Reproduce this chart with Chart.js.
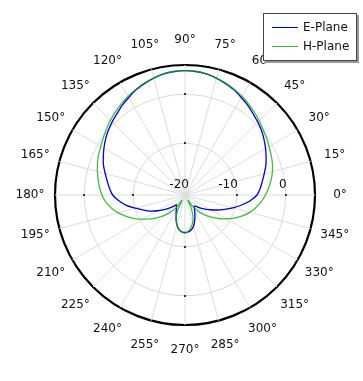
<!DOCTYPE html>
<html>
<head>
<meta charset="utf-8">
<script src="https://cdn.jsdelivr.net/npm/chart.js@4.4.1/dist/chart.umd.min.js"></script>
<style>
  html, body { margin: 0; padding: 0; background: #fff; }
  #wrap { position: relative; width: 363px; height: 381px; }
  #legend {
    position: absolute; left: 263px; top: 13px; width: 92px; height: 46px;
    background: #fff; border: 1px solid #444; box-shadow: 2px 2px 0 #999;
    font: 12px "DejaVu Sans", sans-serif; color: #111;
  }
  .row { position: absolute; left: 0; height: 14px; line-height: 14px; }
  .row .sw { position: absolute; left: 8px; top: 7px; width: 26px; height: 0; border-top: 1.3px solid; }
  .row .tx { position: absolute; left: 39px; top: 0; white-space: nowrap; }
</style>
</head>
<body>
<div id="wrap">
  <canvas id="c" width="363" height="381"></canvas>
  <div id="legend">
    <div class="row" style="top:6px"><span class="sw" style="border-color:#0000cc"></span><span class="tx">E-Plane</span></div>
    <div class="row" style="top:25px"><span class="sw" style="border-color:#3cb83c"></span><span class="tx">H-Plane</span></div>
  </div>
</div>
<script>
// Angles (math convention, degrees, counter-clockwise from the right) at 5° steps
const thetaDeg = Array.from({length: 72}, (_, k) => k * 5);

// E-Plane gain (dB) at thetaDeg
const ePlane = [
  -5.87, -5.15, -4.54, -3.82, -3.00, -2.29, -1.57, -0.85, -0.14, 0.48,
   1.09,  1.81,  2.42,  3.14,  3.65,  4.16,  4.57,  4.77,  4.83, 4.77,
   4.57,  4.16,  3.65,  3.14,  2.42,  1.81,  1.09,  0.50, -0.10, -0.75,
  -1.45, -2.15, -2.85, -3.70, -4.45, -5.10, -5.80, -7.00, -8.42, -10.16,
  -11.60, -12.82, -14.15, -15.40, -16.40, -17.40, -17.94, -17.53, -17.02, -16.30,
  -15.28, -14.26, -13.44, -13.03, -12.93, -13.03, -13.34, -13.95, -14.87, -15.79,
  -16.61, -17.22, -17.63, -17.22, -16.41, -15.59, -14.56, -13.34, -12.01, -10.47,
  -8.83, -7.20
];

// H-Plane gain (dB) at thetaDeg
const hPlane = [
  -4.13, -3.41, -2.70, -2.08, -1.57, -1.16, -0.75, -0.24, 0.27, 0.89,
   1.50,  2.11,  2.73,  3.24,  3.75,  4.16,  4.57,  4.77,  4.83, 4.77,
   4.57,  4.16,  3.75,  3.24,  2.75,  2.15,  1.58,  0.98,  0.40, -0.20,
  -0.70, -1.10, -1.55, -2.05, -2.55, -3.05, -3.60, -4.30, -5.30, -6.45,
  -7.80, -9.20, -10.70, -12.10, -13.50, -14.80, -16.10, -17.50, -19.30, -16.92,
  -15.28, -14.26, -13.44, -13.03, -12.82, -13.13, -13.75, -14.67, -15.79, -17.63,
  -19.37, -17.53, -16.10, -14.77, -13.54, -12.21, -10.88, -9.45, -8.12, -6.89,
  -5.87, -4.95
];

// Radial tick values (dB) and labelled angles
const radialTicks = [-20, -10, 0];
const rMin = -20.6, rMax = 6;
const labelEvery = 15;

// Radar draws clockwise from the top: index i -> theta = 90 - 5 i
const order = thetaDeg.map((_, i) => ((90 - 5 * i) % 360 + 360) % 360);
const idxOf = t => t / 5;
const labels = order.map(t => (t % labelEvery === 0 ? t + '°' : ''));
const eData = order.map(t => ePlane[idxOf(t)]);
const hData = order.map(t => hPlane[idxOf(t)]);

const FONT = '12px "DejaVu Sans", sans-serif';

const overlay = {
  id: 'overlay',
  afterDraw(chart) {
    const s = chart.scales.r;
    const ctx = chart.ctx;
    ctx.save();
    // small tick marks on the four main axes
    ctx.fillStyle = '#333';
    [0, 18, 36, 54].forEach(i => {
      radialTicks.slice(1).forEach(v => {
        const p = s.getPointPositionForValue(i, v);
        ctx.fillRect(Math.round(p.x) - 1, Math.round(p.y) - 1, 2, 2);
      });
    });
    // angle labels
    ctx.font = FONT;
    ctx.fillStyle = '#111';
    ctx.textAlign = 'center';
    ctx.textBaseline = 'middle';
    labels.forEach((lab, i) => {
      if (!lab) return;
      const p = s.getPointPosition(i, s.drawingArea + 25);
      ctx.fillText(lab, p.x, p.y);
    });
    // radial tick labels along the 0° axis
    ctx.textAlign = 'right';
    radialTicks.forEach(v => {
      const p = s.getPointPositionForValue(18, v);
      ctx.fillText(String(v), p.x + 1, p.y - 10);
    });
    ctx.restore();
  }
};

new Chart(document.getElementById('c'), {
  type: 'radar',
  data: {
    labels: labels,
    datasets: [
      { label: 'E-Plane', data: eData, borderColor: '#0000cc', borderWidth: 1.3,
        pointRadius: 0, fill: false, tension: 0.3, order: 2 },
      { label: 'H-Plane', data: hData, borderColor: 'rgba(20,165,20,0.78)', borderWidth: 1.3,
        pointRadius: 0, fill: false, tension: 0.3, order: 1 }
    ]
  },
  options: {
    responsive: false,
    animation: false,
    layout: { padding: { left: 55, right: 48, top: 65, bottom: 56 } },
    plugins: { legend: { display: false }, tooltip: { enabled: false } },
    elements: { line: { borderJoinStyle: 'round' } },
    scales: {
      r: {
        min: rMin,
        max: rMax,
        afterBuildTicks: sc => {
          sc.ticks = [rMin].concat(radialTicks, [rMax]).map(v => ({ value: v }));
        },
        ticks: { display: false },
        pointLabels: { display: false },
        grid: {
          circular: true,
          color: c => (c.tick && c.tick.value === rMax ? '#000' : (c.tick && c.tick.value === rMin ? 'rgba(0,0,0,0)' : '#d9d9d9')),
          lineWidth: c => (c.tick && c.tick.value === rMax ? 2.2 : 1)
        },
        angleLines: {
          display: true,
          color: '#dcdcdc',
          lineWidth: c => (c.index % 3 === 0 ? 1 : 0)
        }
      }
    }
  },
  plugins: [overlay]
});
</script>
</body>
</html>
